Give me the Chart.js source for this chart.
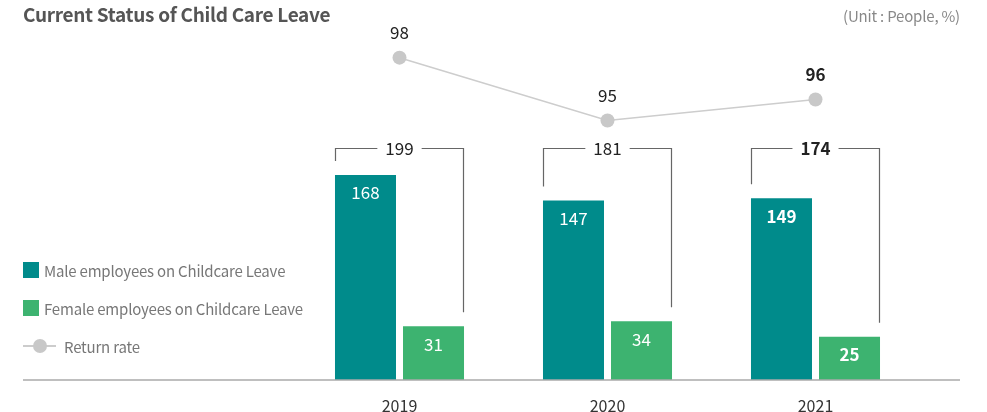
<!DOCTYPE html>
<html>
<head>
<meta charset="utf-8">
<script src="https://cdn.jsdelivr.net/npm/chart.js@4.4.0/dist/chart.umd.min.js"></script>
<style>
  body { margin: 0; background: #fff; font-family: "Noto Sans CJK KR", "Noto Sans", sans-serif; }
  #wrap { position: relative; width: 987px; height: 412px; overflow: hidden; }
  #chart { position: absolute; left: 0; top: 0; }
  .title { position: absolute; left: 23px; top: 0; font-size: 19px; font-weight: 700; color: #555; letter-spacing: -0.3px; }
  .unit { position: absolute; right: 27px; top: 5px; font-size: 15px; color: #888; letter-spacing: -0.2px; }
  .legend { position: absolute; left: 23px; top: 251px; font-size: 15px; color: #777; letter-spacing: -0.2px; }
  .legend .row { height: 38px; display: flex; align-items: center; }
  .legend .box { width: 16px; height: 16px; margin-right: 5px; }
  .legend .dot { position: relative; width: 33px; height: 16px; margin-right: 8px; }
  .legend .dot::before { content: ""; position: absolute; left: 0; right: 0; top: 7px; height: 1.5px; background: #ccc; }
  .legend .dot::after { content: ""; position: absolute; left: 10px; top: 1px; width: 14px; height: 14px; border-radius: 50%; background: #c8c8c8; }
</style>
</head>
<body>
<div id="wrap">
  <canvas id="chart" width="987" height="412"></canvas>
  <div class="title">Current Status of Child Care Leave</div>
  <div class="unit">(Unit : People, %)</div>
  <div class="legend">
    <div class="row"><span class="box" style="background:#008b8b"></span>Male employees on Childcare Leave</div>
    <div class="row"><span class="box" style="background:#3db370"></span>Female employees on Childcare Leave</div>
    <div class="row"><span class="dot"></span>Return rate</div>
  </div>
</div>
<script>
const years = ['2019', '2020', '2021'];
const maleLeave = [168, 147, 149];
const femaleLeave = [31, 34, 25];
const totalLeave = [199, 181, 174];
const returnRate = [98, 95, 96];
const boldIndex = 2; // latest year is printed in bold

const FONT = '"Noto Sans CJK KR", "Noto Sans", sans-serif';
const BRACKET_LEVEL = 190; // height of the total brackets, in male-axis units

function font(i, size) {
    return (i === boldIndex ? 'bold ' : '') + size + 'px ' + FONT;
}

// values on bars and points, total brackets, long baseline
const annotate = {
    id: 'annotate',
    afterDatasetsDraw(chart) {
        const ctx = chart.ctx;
        const area = chart.chartArea;
        const maleBars = chart.getDatasetMeta(0).data;
        const femaleBars = chart.getDatasetMeta(1).data;
        const points = chart.getDatasetMeta(2).data;
        const bracketY = Math.round(chart.scales.yMale.getPixelForValue(BRACKET_LEVEL)) + 0.5;

        ctx.save();

        // baseline
        ctx.strokeStyle = '#aaa';
        ctx.lineWidth = 1.5;
        ctx.beginPath();
        ctx.moveTo(23, area.bottom);
        ctx.lineTo(960, area.bottom);
        ctx.stroke();

        ctx.textAlign = 'center';
        ctx.textBaseline = 'middle';

        years.forEach((y, i) => {
            const m = maleBars[i];
            const f = femaleBars[i];

            // bar values
            ctx.fillStyle = '#fff';
            ctx.font = font(i, 17);
            ctx.fillText(maleLeave[i], m.x, m.y + 18);
            ctx.fillText(femaleLeave[i], f.x, f.y + 18);

            // bracket with total
            const left = Math.round(m.x - m.width / 2) + 0.5;
            const right = Math.round(f.x + f.width / 2) - 0.5;
            const cx = chart.scales.x.getPixelForValue(i);
            ctx.font = font(i, 17);
            const tw = ctx.measureText(totalLeave[i]).width;
            ctx.strokeStyle = '#666';
            ctx.lineWidth = 1.2;
            ctx.beginPath();
            ctx.moveTo(left, m.y - 14);
            ctx.lineTo(left, bracketY);
            ctx.lineTo(cx - tw / 2 - 8, bracketY);
            ctx.moveTo(cx + tw / 2 + 8, bracketY);
            ctx.lineTo(right, bracketY);
            ctx.lineTo(right, f.y - 14);
            ctx.stroke();
            ctx.fillStyle = '#222';
            ctx.fillText(totalLeave[i], cx, bracketY);

            // return rate values
            const p = points[i];
            ctx.fillStyle = '#222';
            ctx.font = font(i, 17);
            ctx.fillText(returnRate[i], p.x, p.y - 25);
        });

        ctx.restore();
    }
};

new Chart(document.getElementById('chart'), {
    data: {
        labels: years,
        datasets: [
            {
                type: 'bar',
                label: 'Male employees on Childcare Leave',
                data: maleLeave,
                yAxisID: 'yMale',
                backgroundColor: '#008b8b',
                categoryPercentage: 0.654,
                barPercentage: 0.897,
                order: 2
            },
            {
                type: 'bar',
                label: 'Female employees on Childcare Leave',
                data: femaleLeave,
                yAxisID: 'yFemale',
                backgroundColor: '#3db370',
                categoryPercentage: 0.654,
                barPercentage: 0.897,
                order: 2
            },
            {
                type: 'line',
                label: 'Return rate',
                data: returnRate,
                yAxisID: 'yRate',
                borderColor: '#cdcdcd',
                borderWidth: 1.5,
                pointRadius: 7,
                pointBackgroundColor: '#c8c8c8',
                pointBorderWidth: 0,
                order: 1
            }
        ]
    },
    options: {
        responsive: false,
        animation: false,
        layout: { padding: { left: 295.5, right: 67.5, top: 20, bottom: 0 } },
        plugins: {
            legend: { display: false },
            tooltip: { enabled: false }
        },
        scales: {
            x: {
                grid: { display: false },
                border: { display: false },
                ticks: { color: '#333', font: { family: FONT, size: 16 }, padding: 8 },
                afterFit(axis) { axis.height = 32; }
            },
            yMale: { display: false, min: 0, max: 295 },
            yFemale: { display: false, min: 0, max: 208 },
            yRate: { display: false, min: 82.6, max: 99.8 }
        }
    },
    plugins: [annotate]
});
</script>
</body>
</html>
